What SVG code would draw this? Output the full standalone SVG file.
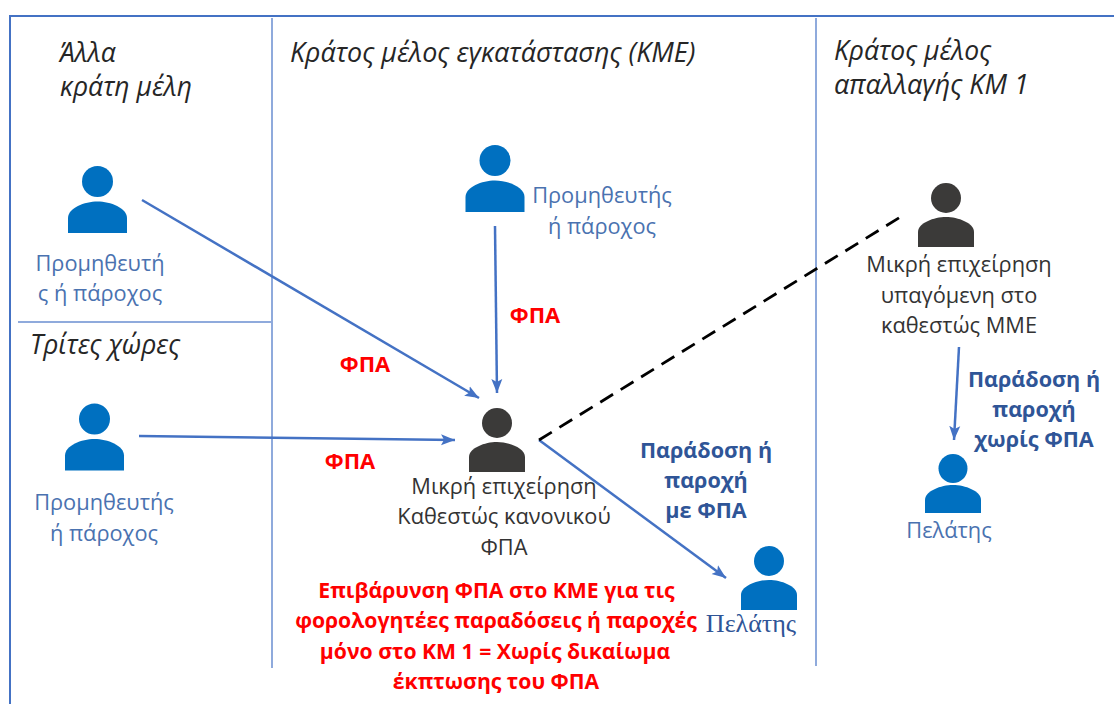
<svg xmlns="http://www.w3.org/2000/svg" width="1114" height="704" viewBox="0 0 1114 704">
<style>
text{font-family:"Open Sans","Noto Sans","DejaVu Sans",sans-serif;font-size:21.8px;text-anchor:middle}
.h{font-style:italic;fill:#262626;text-anchor:start;font-size:26.5px}
.w{font-size:26.9px}
.b{fill:#4a72b0}
.d{fill:#333333}
.r{font-weight:700;fill:#ff0000;font-size:21.2px}
.f{font-size:22px}
.n{font-weight:700;fill:#2f5597;font-size:21.6px}
.frame{fill:none;stroke:#4472c4;stroke-width:2}
.div{stroke:#8faadc;stroke-width:2;fill:none}
.c{stroke:#4472c4;stroke-width:2.5;fill:none;marker-end:url(#a)}
.i1{fill:#0070c0}
.i2{fill:#3b3a39}
</style>
<defs>
<marker id="a" markerUnits="userSpaceOnUse" markerWidth="15" markerHeight="12" refX="14" refY="6" orient="auto"><path d="M0 0.5L14 6L0 11.5L3 6Z" fill="#4472c4"/></marker>
<g id="p"><circle cx="0" cy="-51.5" r="15.5"/><path d="M-29.5 0V-15C-29.5 -25 -13 -31.5 0 -31.5C13 -31.5 29.5 -25 29.5 -15V0Z"/></g>
<g id="q"><circle cx="0" cy="-49" r="15"/><path d="M-28 0V-15C-28 -24 -12 -30 0 -30C12 -30 28 -24 28 -15V0Z"/></g>
<g id="s"><circle cx="0" cy="-44.5" r="14.5"/><path d="M-28 0V-13C-28 -22 -12 -28 0 -28C12 -28 28 -22 28 -13V0Z"/></g>
</defs>
<g id="frame">
<path class="frame" d="M1114 16H10V704"/>
<path class="div" d="M272 18V668M816 18V666M18 322H272"/>
</g>
<g id="connectors">
<path class="c" d="M142 200L479 398"/>
<path class="c" d="M495 226L497 393"/>
<path class="c" d="M139 436L455 440"/>
<path class="c" d="M539 440L726 578"/>
<path class="c" d="M959 347L954 440"/>
<path d="M539 440L902 216" fill="none" stroke="#000" stroke-width="2.8" stroke-dasharray="15 9"/>
</g>
<g id="heading-other"><text class="h" x="60" y="62">Άλλα</text><text class="h" x="60" y="96">κράτη μέλη</text></g>
<g id="heading-kme"><text class="h w" x="290" y="62">Κράτος μέλος εγκατάστασης (ΚΜΕ)</text></g>
<g id="heading-km1"><text class="h" x="834" y="60">Κράτος μέλος</text><text class="h w" x="834" y="94">απαλλαγής ΚΜ 1</text></g>
<g id="heading-third"><text class="h" x="30" y="354">Τρίτες χώρες</text></g>
<g id="supplier-other"><use href="#p" class="i1" x="97.5" y="233"/><text class="b" x="100" y="271">Προμηθευτή</text><text class="b" x="100" y="301">ς ή πάροχος</text></g>
<g id="supplier-third"><use href="#p" class="i1" x="94.5" y="470.5"/><text class="b" x="104" y="510">Προμηθευτής</text><text class="b" x="104" y="541">ή πάροχος</text></g>
<g id="supplier-kme"><use href="#p" class="i1" x="495" y="212"/><text class="b" x="602" y="203">Προμηθευτής</text><text class="b" x="602" y="234">ή πάροχος</text></g>
<g id="business"><use href="#q" class="i2" x="497" y="472"/><text class="d" x="504" y="494">Μικρή επιχείρηση</text><text class="d" x="504" y="524">Καθεστώς κανονικού</text><text class="d" x="504" y="555">ΦΠΑ</text></g>
<g id="small-business"><use href="#q" class="i2" x="946" y="247"/><text class="d" x="959" y="272">Μικρή επιχείρηση</text><text class="d" x="959" y="303">υπαγόμενη στο</text><text class="d" x="959" y="333">καθεστώς ΜΜΕ</text></g>
<g id="customer-kme"><use href="#q" class="i1" x="769" y="610"/><text x="751" y="632" style="font-family:'Liberation Serif',serif;font-size:26px;fill:#2f5597">Πελάτης</text></g>
<g id="customer-km1"><use href="#s" class="i1" x="953" y="513"/><text class="b" x="949" y="538">Πελάτης</text></g>
<g id="labels">
<text class="r f" x="365" y="372">ΦΠΑ</text>
<text class="r f" x="535" y="323">ΦΠΑ</text>
<text class="r f" x="350" y="469">ΦΠΑ</text>
<text class="n" x="706" y="458">Παράδοση ή</text><text class="n" x="706" y="488">παροχή</text><text class="n" x="706" y="518">με ΦΠΑ</text>
<text class="n" x="1034" y="387">Παράδοση ή</text><text class="n" x="1034" y="417">παροχή</text><text class="n" x="1034" y="447">χωρίς ΦΠΑ</text>
<text class="r" x="496.5" y="598">Επιβάρυνση ΦΠΑ στο ΚΜΕ για τις</text>
<text class="r" x="496" y="628">φορολογητέες παραδόσεις ή παροχές</text>
<text class="r" x="495" y="659">μόνο στο ΚΜ 1 = Χωρίς δικαίωμα</text>
<text class="r" x="496" y="689">έκπτωσης του ΦΠΑ</text>
</g>
</svg>
